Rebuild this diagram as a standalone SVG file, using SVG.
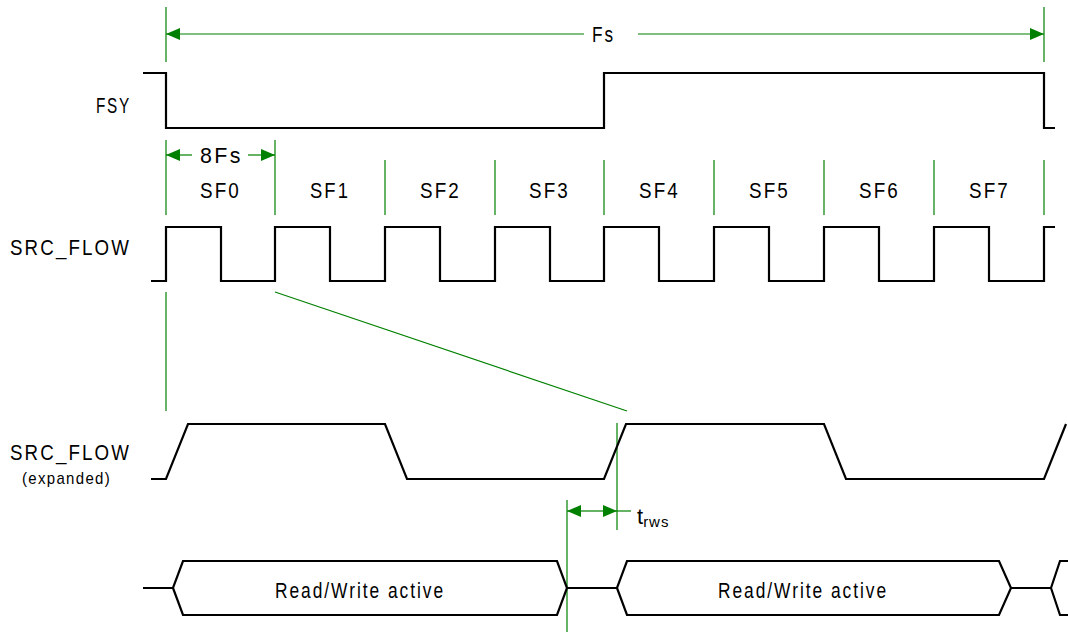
<svg xmlns="http://www.w3.org/2000/svg" width="1068" height="632" viewBox="0 0 1068 632">
<style>
.sig{fill:none;stroke:#000;stroke-width:2.2;stroke-linejoin:miter}
.g{fill:none;stroke:#008000;stroke-width:1.2}
.t{font-family:"Liberation Sans",Arial,sans-serif;font-size:22px;fill:#000;letter-spacing:2.5px}
.s{font-family:"Liberation Sans",Arial,sans-serif;font-size:17px;fill:#000;letter-spacing:1.5px}
</style>
<defs>
<marker id="ah" viewBox="0 0 14 12" refX="14" refY="6" markerWidth="14" markerHeight="12" markerUnits="userSpaceOnUse" orient="auto-start-reverse">
<path d="M0,0 L14,6 L0,12 Z" fill="#008000"/>
</marker>
</defs>
<rect width="1068" height="632" fill="#fff"/>
<g id="labels">
<text class="t" x="96" y="113" textLength="35" lengthAdjust="spacingAndGlyphs">FSY</text>
<text class="t" x="10" y="255" textLength="121" lengthAdjust="spacingAndGlyphs">SRC_FLOW</text>
<text class="t" x="10" y="460" textLength="121" lengthAdjust="spacingAndGlyphs">SRC_FLOW</text>
<text class="s" x="22" y="484" textLength="89" lengthAdjust="spacingAndGlyphs">(expanded)</text>
</g>
<g id="connectors">
<line class="g" x1="166" y1="7" x2="166" y2="62"/>
<line class="g" x1="1044" y1="7" x2="1044" y2="62"/>
<line class="g" x1="584" y1="34" x2="166" y2="34" marker-end="url(#ah)"/>
<line class="g" x1="638" y1="34" x2="1044" y2="34" marker-end="url(#ah)"/>
<line class="g" x1="166" y1="140" x2="166" y2="215"/>
<line class="g" x1="275" y1="140" x2="275" y2="215"/>
<line class="g" x1="192" y1="155" x2="166" y2="155" marker-end="url(#ah)"/>
<line class="g" x1="248" y1="155" x2="275" y2="155" marker-end="url(#ah)"/>
<line class="g" x1="385" y1="160" x2="385" y2="215"/>
<line class="g" x1="495" y1="160" x2="495" y2="215"/>
<line class="g" x1="604" y1="160" x2="604" y2="215"/>
<line class="g" x1="714" y1="160" x2="714" y2="215"/>
<line class="g" x1="824" y1="160" x2="824" y2="215"/>
<line class="g" x1="934" y1="160" x2="934" y2="215"/>
<line class="g" x1="1044" y1="160" x2="1044" y2="215"/>
<line class="g" x1="166" y1="292" x2="166" y2="411"/>
<line class="g" x1="275" y1="292" x2="627" y2="411"/>
<line class="g" x1="617" y1="423" x2="617" y2="530"/>
<line class="g" x1="567" y1="500" x2="567" y2="632"/>
<line class="g" x1="592" y1="511" x2="567" y2="511" marker-end="url(#ah)"/>
<line class="g" x1="592" y1="511" x2="617" y2="511" marker-end="url(#ah)"/>
<line class="g" x1="617" y1="511" x2="631" y2="511"/>
</g>
<g id="fs-label">
<text class="t" x="592" y="42" textLength="23" lengthAdjust="spacingAndGlyphs">Fs</text>
<text class="t" x="200" y="163" textLength="43" lengthAdjust="spacingAndGlyphs">8Fs</text>
</g>
<g id="sf-labels">
<text class="t" x="200" y="198" textLength="41" lengthAdjust="spacingAndGlyphs">SF0</text>
<text class="t" x="310" y="198" textLength="40" lengthAdjust="spacingAndGlyphs">SF1</text>
<text class="t" x="420" y="198" textLength="41" lengthAdjust="spacingAndGlyphs">SF2</text>
<text class="t" x="529" y="198" textLength="41" lengthAdjust="spacingAndGlyphs">SF3</text>
<text class="t" x="639" y="198" textLength="41" lengthAdjust="spacingAndGlyphs">SF4</text>
<text class="t" x="749" y="198" textLength="41" lengthAdjust="spacingAndGlyphs">SF5</text>
<text class="t" x="859" y="198" textLength="41" lengthAdjust="spacingAndGlyphs">SF6</text>
<text class="t" x="969" y="198" textLength="41" lengthAdjust="spacingAndGlyphs">SF7</text>
</g>
<g id="fsy">
<path class="sig" d="M143,73 H166 V128 H604 V73 H1044 V128 H1055"/>
</g>
<g id="src-flow">
<path class="sig" d="M151,281 H166 V227 H221 V281 H275 V227 H330 V281 H385 V227 H440 V281 H495 V227 H550 V281 H604 V227 H659 V281 H714 V227 H769 V281 H824 V227 H879 V281 H934 V227 H989 V281 H1044 V227 H1055"/>
</g>
<g id="src-flow-expanded">
<path class="sig" d="M151,479 H166 L188,424 H385 L407,479 H604 L626,424 H824 L846,479 H1044 L1066,424"/>
</g>
<g id="trws">
<text x="637" y="524" font-family="'Liberation Sans',Arial,sans-serif" font-size="22" fill="#000">t<tspan font-size="15" dy="3" letter-spacing="1">rws</tspan></text>
</g>
<g id="rw-bus">
<path class="sig" d="M143,588 H173 L183,561 H557 L567,588 L557,615 H183 L173,588"/>
<path class="sig" d="M567,588 H617 L627,561 H999 L1011,588 L999,615 H627 L617,588"/>
<path class="sig" d="M1011,588 H1051 L1060,561 H1068 M1051,588 L1060,615 H1068"/>
<text class="t" x="275" y="598" textLength="170" lengthAdjust="spacingAndGlyphs" letter-spacing="1">Read/Write active</text>
<text class="t" x="718" y="598" textLength="170" lengthAdjust="spacingAndGlyphs" letter-spacing="1">Read/Write active</text>
</g>
</svg>
